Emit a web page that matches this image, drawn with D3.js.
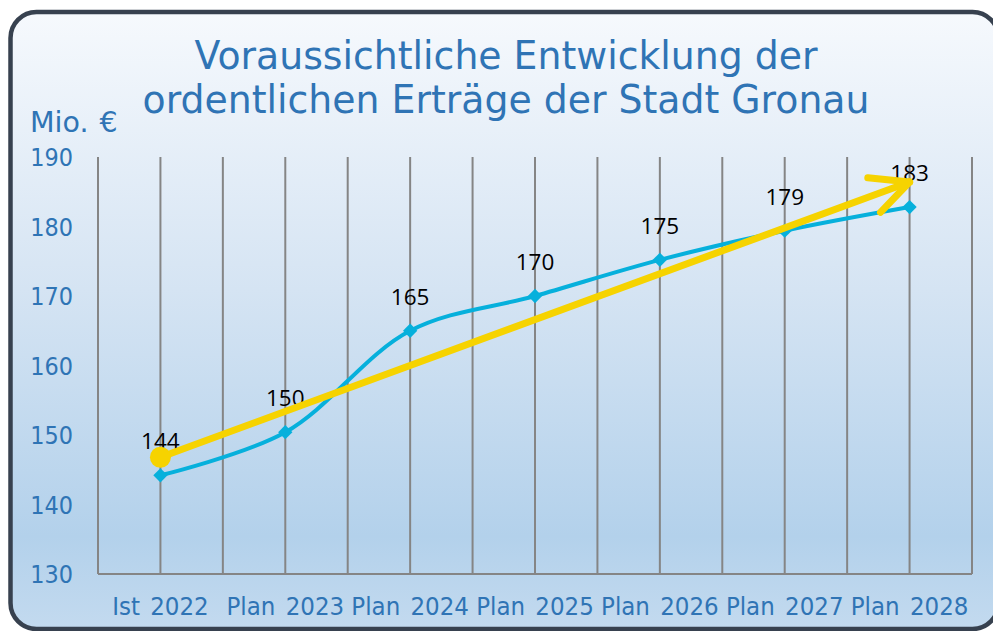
<!DOCTYPE html>
<html>
<head>
<meta charset="utf-8">
<script src="https://cdn.jsdelivr.net/npm/d3@7"></script>
<style>
  html, body { margin: 0; padding: 0; background: #fff; }
  svg { display: block; font-family: "DejaVu Sans", Verdana, sans-serif; }
</style>
</head>
<body>
<script>
'use strict';

// chart data
var categories = ['Ist 2022', 'Plan 2023', 'Plan 2024', 'Plan 2025', 'Plan 2026', 'Plan 2027', 'Plan 2028'];
var values = [144.2, 150.4, 165, 170, 175.2, 179.4, 182.8];
var valueLabels = ['144', '150', '165', '170', '175', '179', '183'];
var yTicks = [130, 140, 150, 160, 170, 180, 190];
var titleLines = ['Voraussichtliche Entwicklung der', 'ordentlichen Erträge der Stadt Gronau'];
var yUnit = 'Mio. €';
// yellow trend arrow: [category, value] at start and tip
var trendFrom = ['Ist 2022', 146.8];
var trendTo = ['Plan 2028', 186.4];

var settings = {
    width: 993,
    height: 631,
    plot_left: 98,
    plot_right: 972,
    plot_top: 157,
    plot_bottom: 574,
    blue: '#06b0dc',
    yellow: '#f6d300',
    text_blue: '#2f74b5',
    grid: '#858585'
};

var svg = d3.select('body').append('svg')
    .attr('width', settings.width)
    .attr('height', settings.height);

var defs = svg.append('defs');
var grad = defs.append('linearGradient')
    .attr('id', 'bg').attr('x1', 0).attr('y1', 0).attr('x2', 0).attr('y2', 1);
grad.append('stop').attr('offset', '0%').attr('stop-color', '#f6f9fd');
grad.append('stop').attr('offset', '45%').attr('stop-color', '#d5e4f3');
grad.append('stop').attr('offset', '85%').attr('stop-color', '#b3d1eb');
grad.append('stop').attr('offset', '100%').attr('stop-color', '#c3daef');

// panel
svg.append('rect')
    .attr('x', 10.5).attr('y', 12)
    .attr('width', 988).attr('height', 617)
    .attr('rx', 26).attr('ry', 26)
    .attr('fill', 'url(#bg)')
    .attr('stroke', '#37414f')
    .attr('stroke-width', 4.5);

// text placed with a small vertical stretch (source font is taller)
var place = function (sel, fx, fy, sy) {
    return sel.attr('x', 0).attr('y', 0)
        .attr('transform', function (d, i) {
            return 'translate(' + fx(d, i) + ',' + fy(d, i) + ') scale(1,' + sy + ')';
        });
};

// scales
var x = d3.scaleBand()
    .domain(categories)
    .range([settings.plot_left, settings.plot_right])
    .padding(0);
var bw = x.bandwidth();
var cx = function (c) { return x(c) + bw / 2; };

var y = d3.scaleLinear()
    .domain([130, 190])
    .range([settings.plot_bottom, settings.plot_top]);

// vertical gridlines at band edges and centres
var gridX = [];
categories.forEach(function (c) {
    gridX.push(x(c));
    gridX.push(cx(c));
});
gridX.push(settings.plot_right);

svg.append('g').selectAll('line')
    .data(gridX).enter().append('line')
    .attr('x1', function (d) { return d; })
    .attr('x2', function (d) { return d; })
    .attr('y1', y(190))
    .attr('y2', y(130))
    .attr('stroke', settings.grid)
    .attr('stroke-width', 2);

// bottom axis line
svg.append('line')
    .attr('x1', settings.plot_left).attr('x2', settings.plot_right)
    .attr('y1', y(130)).attr('y2', y(130))
    .attr('stroke', settings.grid)
    .attr('stroke-width', 2);

// y labels
place(svg.append('g').selectAll('text')
    .data(yTicks).enter().append('text'),
    function () { return 73; },
    function (d) { return y(d) + 9.2; }, 1.12)
    .attr('text-anchor', 'end')
    .attr('font-size', 22.4)
    .attr('fill', settings.text_blue)
    .text(function (d) { return d; });

// x labels
place(svg.append('g').selectAll('text')
    .data(categories).enter().append('text'),
    function (d) { return cx(d); },
    function () { return 615; }, 1.1)
    .attr('text-anchor', 'middle')
    .attr('font-size', 23)
    .attr('word-spacing', 3)
    .attr('fill', settings.text_blue)
    .text(function (d) { return d; });

// title
place(svg.append('g').selectAll('text')
    .data(titleLines).enter().append('text'),
    function () { return 506; },
    function (d, i) { return 69 + i * 44; }, 1.05)
    .attr('text-anchor', 'middle')
    .attr('font-size', 37.8)
    .attr('fill', settings.text_blue)
    .text(function (d) { return d; });

svg.append('text')
    .attr('x', 30).attr('y', 132)
    .attr('font-size', 28.5)
    .attr('word-spacing', 2)
    .attr('fill', settings.text_blue)
    .text(yUnit);

// blue smoothed line
var pts = categories.map(function (c, i) { return [cx(c), y(values[i])]; });
svg.append('path')
    .attr('d', d3.line().curve(d3.curveCatmullRom.alpha(0.5))(pts))
    .attr('fill', 'none')
    .attr('stroke', settings.blue)
    .attr('stroke-width', 4);

svg.append('g').selectAll('path')
    .data(pts).enter().append('path')
    .attr('d', d3.symbol().type(d3.symbolDiamond2).size(130))
    .attr('transform', function (d) { return 'translate(' + d[0] + ',' + d[1] + ')'; })
    .attr('fill', settings.blue);

// data labels
svg.append('g').selectAll('text')
    .data(pts).enter().append('text')
    .attr('x', function (d) { return d[0]; })
    .attr('y', function (d) { return d[1] - 34; })
    .attr('dy', '0.36em')
    .attr('text-anchor', 'middle')
    .attr('font-family', '"Open Sans", sans-serif')
    .attr('font-size', 22.5)
    .attr('fill', '#000')
    .text(function (d, i) { return valueLabels[i]; });

// yellow trend arrow
var p0 = [cx(trendFrom[0]), y(trendFrom[1])];
var p1 = [cx(trendTo[0]), y(trendTo[1])];
var ang = Math.atan2(p0[1] - p1[1], p0[0] - p1[0]);
var headLen = 42, headAng = 26 * Math.PI / 180;
var arrow = svg.append('g')
    .attr('stroke', settings.yellow)
    .attr('stroke-width', 7)
    .attr('stroke-linecap', 'round')
    .attr('fill', 'none');
arrow.append('line')
    .attr('x1', p0[0]).attr('y1', p0[1])
    .attr('x2', p1[0]).attr('y2', p1[1]);
[-headAng, headAng].forEach(function (a) {
    arrow.append('line')
        .attr('x1', p1[0]).attr('y1', p1[1])
        .attr('x2', p1[0] + headLen * Math.cos(ang + a))
        .attr('y2', p1[1] + headLen * Math.sin(ang + a));
});
svg.append('circle')
    .attr('cx', p0[0]).attr('cy', p0[1])
    .attr('r', 10.5)
    .attr('fill', settings.yellow);
</script>
</body>
</html>
